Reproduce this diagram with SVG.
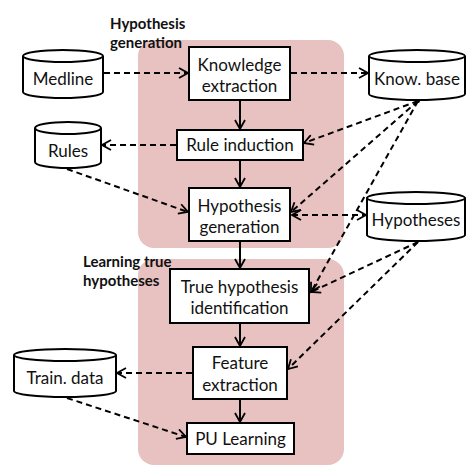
<svg xmlns="http://www.w3.org/2000/svg" width="466" height="466" viewBox="0 0 466 466">
  <defs>
    <marker id="open" viewBox="0 0 12 12" refX="10" refY="6" markerWidth="12" markerHeight="12" markerUnits="userSpaceOnUse" orient="auto-start-reverse">
      <path d="M1,1 L10,6 L1,11" fill="none" stroke="#000" stroke-width="1.8"/>
    </marker>
    <marker id="solid" viewBox="0 0 12 12" refX="10" refY="6" markerWidth="12" markerHeight="12" markerUnits="userSpaceOnUse" orient="auto">
      <path d="M1,1 L10,6 L1,11" fill="none" stroke="#000" stroke-width="1.8"/>
    </marker>
  </defs>
  <style>
    .stage { fill: #e8c1c1; }
    .box { fill: #fff; stroke: #000; stroke-width: 2; }
    .db { fill: #fff; stroke: #000; stroke-width: 2; }
    .lbl { font-family: Lato, "Open Sans", "Liberation Sans", sans-serif; font-size: 17px; fill: #111; text-anchor: middle; }
    .head { font-family: Lato, "Open Sans", "Liberation Sans", sans-serif; font-size: 15px; font-weight: bold; fill: #111; }
    .dash { fill: none; stroke: #000; stroke-width: 2; stroke-dasharray: 6 4; }
    .flow { fill: none; stroke: #000; stroke-width: 2; }
  </style>

  <!-- stage backgrounds -->
  <rect class="stage" x="138" y="40" width="206" height="208" rx="16"/>
  <rect class="stage" x="138" y="259" width="206" height="206" rx="16"/>
  <text class="head" x="110" y="29">Hypothesis</text>
  <text class="head" x="110" y="48">generation</text>
  <text class="head" x="83" y="267">Learning true</text>
  <text class="head" x="83" y="286">hypotheses</text>

  <!-- data stores -->
  <g id="medline">
    <path class="db" d="M23,56 V92 A40,6 0 0 0 103,92 V56"/>
    <ellipse class="db" cx="63" cy="56" rx="40" ry="6"/>
    <text class="lbl" x="63" y="85">Medline</text>
  </g>
  <g id="rules">
    <path class="db" d="M35,128 V162 A33,6 0 0 0 101,162 V128"/>
    <ellipse class="db" cx="68" cy="128" rx="33" ry="6"/>
    <text class="lbl" x="68" y="157">Rules</text>
  </g>
  <g id="knowbase">
    <path class="db" d="M369,56 V94 A48,6 0 0 0 465,94 V56"/>
    <ellipse class="db" cx="417" cy="56" rx="48" ry="6"/>
    <text class="lbl" x="417" y="85">Know. base</text>
  </g>
  <g id="hypotheses">
    <path class="db" d="M367,198 V235 A49,6 0 0 0 465,235 V198"/>
    <ellipse class="db" cx="416" cy="198" rx="49" ry="6"/>
    <text class="lbl" x="416" y="226">Hypotheses</text>
  </g>
  <g id="traindata">
    <path class="db" d="M14,355 V391 A51,6 0 0 0 116,391 V355"/>
    <ellipse class="db" cx="65" cy="355" rx="51" ry="6"/>
    <text class="lbl" x="65" y="384">Train. data</text>
  </g>

  <!-- process steps -->
  <g id="knowledge-extraction">
    <rect class="box" x="189" y="47" width="101" height="53"/>
    <text class="lbl" x="239.5" y="71">Knowledge</text>
    <text class="lbl" x="239.5" y="92">extraction</text>
  </g>
  <g id="rule-induction">
    <rect class="box" x="177" y="130" width="126" height="30"/>
    <text class="lbl" x="240" y="151">Rule induction</text>
  </g>
  <g id="hypothesis-generation">
    <rect class="box" x="189" y="188" width="101" height="53"/>
    <text class="lbl" x="239.5" y="212">Hypothesis</text>
    <text class="lbl" x="239.5" y="233">generation</text>
  </g>
  <g id="true-hypothesis-identification">
    <rect class="box" x="170" y="269" width="139" height="54"/>
    <text class="lbl" x="239.5" y="293">True hypothesis</text>
    <text class="lbl" x="239.5" y="314">identification</text>
  </g>
  <g id="feature-extraction">
    <rect class="box" x="193" y="347" width="94" height="52"/>
    <text class="lbl" x="240" y="369">Feature</text>
    <text class="lbl" x="240" y="391">extraction</text>
  </g>
  <g id="pu-learning">
    <rect class="box" x="187" y="423" width="107" height="31"/>
    <text class="lbl" x="240.5" y="445">PU Learning</text>
  </g>

  <!-- connectors -->
  <g id="connectors">
    <line class="flow" x1="240" y1="100" x2="240" y2="129" marker-end="url(#solid)"/>
    <line class="flow" x1="240" y1="160" x2="240" y2="187" marker-end="url(#solid)"/>
    <line class="flow" x1="240" y1="241" x2="240" y2="268" marker-end="url(#solid)"/>
    <line class="flow" x1="240" y1="323" x2="240" y2="346" marker-end="url(#solid)"/>
    <line class="flow" x1="240" y1="399" x2="240" y2="422" marker-end="url(#solid)"/>

    <line class="dash" x1="104" y1="73" x2="188" y2="73" marker-end="url(#open)"/>
    <line class="dash" x1="291" y1="73" x2="368" y2="73" marker-end="url(#open)"/>
    <line class="dash" x1="176" y1="145" x2="102" y2="145" marker-end="url(#open)"/>
    <line class="dash" x1="67" y1="169" x2="188" y2="212" marker-end="url(#open)"/>
    <line class="dash" x1="418" y1="101" x2="304" y2="143" marker-end="url(#open)"/>
    <line class="dash" x1="418" y1="101" x2="291" y2="212" marker-end="url(#open)"/>
    <line class="dash" x1="418" y1="101" x2="311" y2="292" marker-end="url(#open)"/>
    <line class="dash" x1="292" y1="215" x2="366" y2="215" marker-start="url(#open)" marker-end="url(#open)"/>
    <line class="dash" x1="418" y1="242" x2="311" y2="292" marker-end="url(#open)"/>
    <line class="dash" x1="418" y1="242" x2="288" y2="369" marker-end="url(#open)"/>
    <line class="dash" x1="192" y1="373" x2="117" y2="373" marker-end="url(#open)"/>
    <line class="dash" x1="67" y1="398" x2="186" y2="437" marker-end="url(#open)"/>
    <circle cx="418" cy="101" r="2"/>
  </g>
</svg>
